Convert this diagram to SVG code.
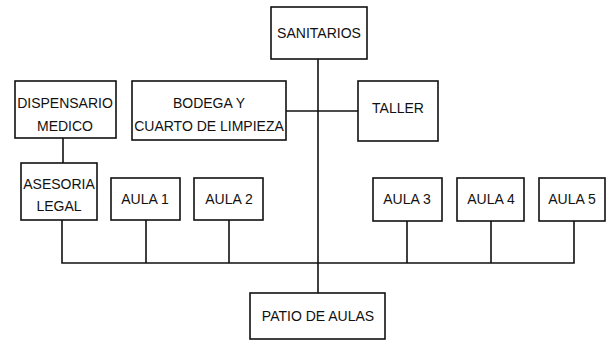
<svg xmlns="http://www.w3.org/2000/svg" width="607" height="342" viewBox="0 0 607 342">
<style>
.box{fill:#fff;stroke:#111;stroke-width:1.6}
.ln{fill:none;stroke:#111;stroke-width:1.6}
text{font-family:"Liberation Sans",Arial,sans-serif;font-size:14px;fill:#111;text-anchor:middle}
</style>
<rect width="607" height="342" fill="#fff"/>
<g id="connectors">
<path class="ln" d="M318 59V293"/>
<path class="ln" d="M286 111H358"/>
<path class="ln" d="M63 138V163"/>
<path class="ln" d="M62 220V263H574V221"/>
<path class="ln" d="M146 220V263M229 220V263M407 221V263M491 221V263"/>
</g>
<g id="sanitarios"><rect class="box" x="271" y="7" width="96" height="52"/><text x="319" y="38">SANITARIOS</text></g>
<g id="dispensario"><rect class="box" x="15" y="81" width="101" height="57"/><text x="65" y="108">DISPENSARIO</text><text x="65" y="131">MEDICO</text></g>
<g id="bodega"><rect class="box" x="132" y="81" width="154" height="59"/><text x="209" y="108">BODEGA Y</text><text x="209" y="131">CUARTO DE LIMPIEZA</text></g>
<g id="taller"><rect class="box" x="358" y="81" width="80" height="60"/><text x="398" y="113">TALLER</text></g>
<g id="asesoria"><rect class="box" x="21" y="163" width="76" height="57"/><text x="59" y="189">ASESORIA</text><text x="59" y="211">LEGAL</text></g>
<g id="aula1"><rect class="box" x="111" y="178" width="69" height="42"/><text x="145" y="204">AULA 1</text></g>
<g id="aula2"><rect class="box" x="194" y="178" width="69" height="42"/><text x="229" y="204">AULA 2</text></g>
<g id="aula3"><rect class="box" x="373" y="178" width="69" height="43"/><text x="407" y="204">AULA 3</text></g>
<g id="aula4"><rect class="box" x="457" y="178" width="67" height="43"/><text x="491" y="204">AULA 4</text></g>
<g id="aula5"><rect class="box" x="539" y="178" width="66" height="43"/><text x="572" y="204">AULA 5</text></g>
<g id="patio"><rect class="box" x="250" y="293" width="135" height="46"/><text x="318" y="321">PATIO DE AULAS</text></g>
</svg>
